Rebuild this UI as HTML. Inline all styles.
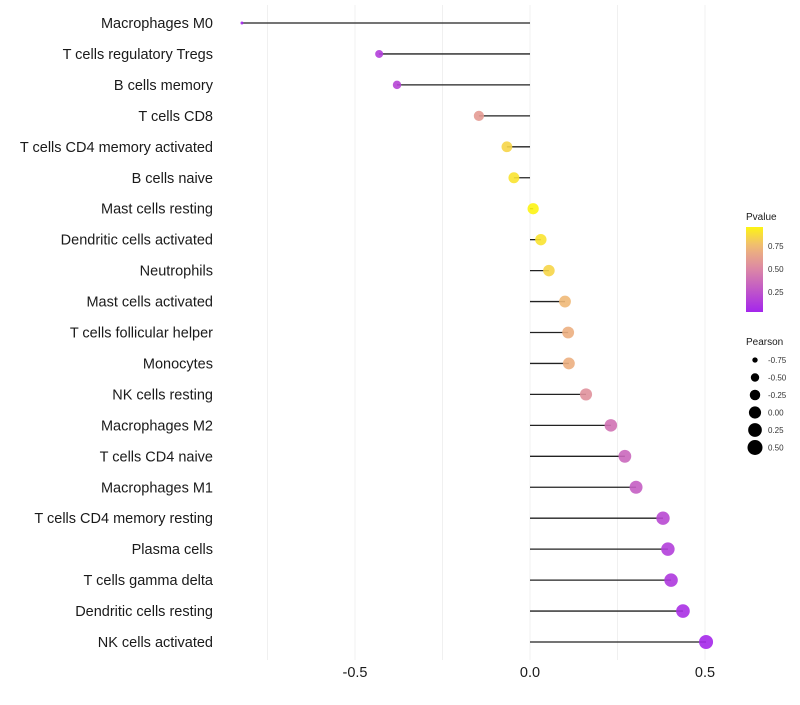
<!DOCTYPE html>
<html><head><meta charset="utf-8"><style>
body{margin:0;background:#fff;font-family:"Liberation Sans",sans-serif}
</style></head><body>
<svg id="c" width="800" height="700" xmlns="http://www.w3.org/2000/svg"></svg>
<script>
const categories=["Macrophages M0","T cells regulatory  Tregs","B cells memory","T cells CD8","T cells CD4 memory activated","B cells naive","Mast cells resting","Dendritic cells activated","Neutrophils","Mast cells activated","T cells follicular helper","Monocytes","NK cells resting","Macrophages M2","T cells CD4 naive","Macrophages M1","T cells CD4 memory resting","Plasma cells","T cells gamma delta","Dendritic cells resting","NK cells activated"];
const pearson=[-0.823,-0.431,-0.38,-0.146,-0.066,-0.046,0.009,0.031,0.054,0.1,0.109,0.111,0.16,0.231,0.271,0.303,0.38,0.394,0.403,0.437,0.503];
const pvalue=[0.03,0.15,0.18,0.6,0.85,0.9,0.96,0.9,0.85,0.75,0.7,0.7,0.55,0.4,0.35,0.3,0.2,0.15,0.12,0.08,0.04];
const xTicks=[-0.5,0,0.5];
const xTickLabels=["-0.5","0.0","0.5"];
const gridVals=[-0.75,-0.5,-0.25,0,0.25,0.5];
const pLegendTicks=[0.25,0.5,0.75];
const pLegendLabels=["0.25","0.50","0.75"];
const sizeLegend=[-0.75,-0.5,-0.25,0,0.25,0.5];
const sizeLegendLabels=["-0.75","-0.50","-0.25","0.00","0.25","0.50"];

const svg=document.getElementById('c');const NS="http://www.w3.org/2000/svg";
function el(t,a,p){const e=document.createElementNS(NS,t);for(const k in a)e.setAttribute(k,a[k]);(p||svg).appendChild(e);return e;}
const x=v=>530+v*350;
const y=i=>23+i*30.95;
const stops=[[0,[160,32,240]],[0.5,[220,135,165]],[0.75,[240,185,120]],[1,[255,255,0]]];
function col(p){p=Math.max(0,Math.min(1,p));for(let i=1;i<stops.length;i++){if(p<=stops[i][0]){const[a,c0]=stops[i-1],[b,c1]=stops[i];const t=(p-a)/(b-a);return `rgb(${c0.map((c,j)=>Math.round(c+(c1[j]-c)*t)).join(',')})`;}}return 'rgb(255,255,0)';}
const rad=v=>Math.sqrt(Math.max(1,31.3+35.4*v));
gridVals.forEach(g=>{const l=el('line',{x1:x(g),x2:x(g),y1:5,y2:660,stroke:'#f0f0f0','stroke-width':1});

});
xTicks.forEach((t,i)=>{const tx=el('text',{x:x(t),y:677,'text-anchor':'middle','font-size':14.5,fill:'#1a1a1a'});tx.textContent=xTickLabels[i];

});
categories.forEach((c,i)=>{
const t=el('text',{x:213,y:y(i)+5,'text-anchor':'end','font-size':14.5,fill:'#1a1a1a'});t.textContent=c;


const s=el('line',{x1:x(0),x2:x(pearson[i]),y1:y(i),y2:y(i),stroke:'#222','stroke-width':1.3});


const d=el('circle',{cx:x(pearson[i]),cy:y(i),r:rad(pearson[i]),fill:col(pvalue[i]),'fill-opacity':0.9});


});
const defs=el('defs',{});const lg=el('linearGradient',{id:'g',x1:0,y1:1,x2:0,y2:0},defs);
for(let k=0;k<=10;k++){el('stop',{offset:k/10,'stop-color':col(0.03+k/10*0.93)},lg);}
const lt=el('text',{x:746,y:220,'font-size':10,fill:'#1a1a1a'});lt.textContent='Pvalue';


const bar=el('rect',{x:746,y:227,width:17,height:85,fill:'url(#g)'});


const py=p=>312-(p-0.03)/0.93*85;
pLegendTicks.forEach((p,i)=>{const t=el('text',{x:768,y:py(p)+3,'font-size':8,fill:'#333'});t.textContent=pLegendLabels[i];

});
const st=el('text',{x:746,y:345,'font-size':10,fill:'#1a1a1a'});st.textContent='Pearson';


sizeLegend.forEach((v,i)=>{const cy=360+i*17.5;
const c=el('circle',{cx:755,cy:cy,r:rad(v)+0.5,fill:'#000'});


const t=el('text',{x:768,y:cy+3,'font-size':8,fill:'#333'});t.textContent=sizeLegendLabels[i];

});
</script>
</body></html>
